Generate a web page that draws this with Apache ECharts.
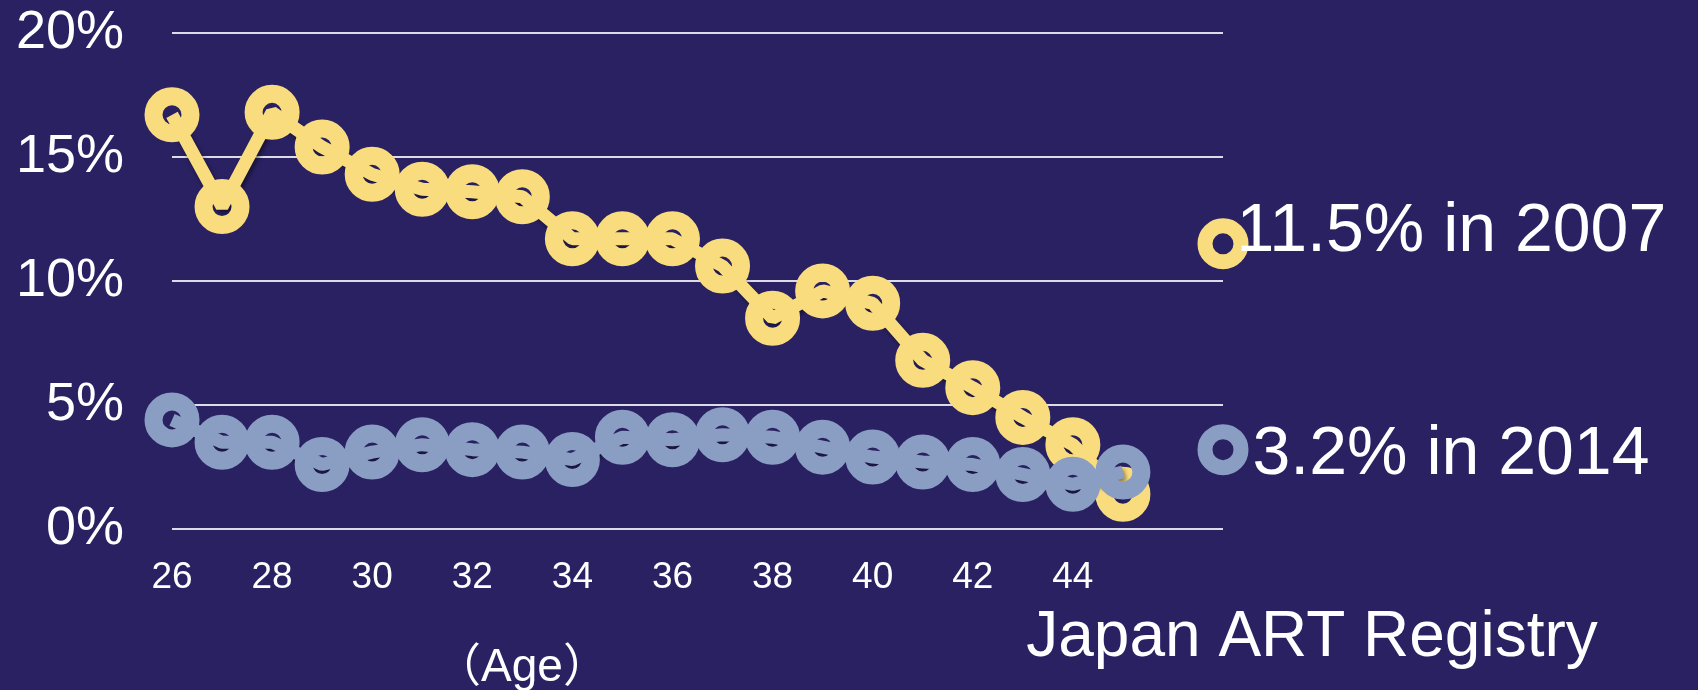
<!DOCTYPE html>
<html>
<head>
<meta charset="utf-8">
<script src="https://cdn.jsdelivr.net/npm/echarts@6/dist/echarts.min.js"></script>
<style>
html,body{margin:0;padding:0;background:#2a2162;}
#c{width:1698px;height:690px;}
</style>
</head>
<body>
<div id="c"></div>
<script>
var ages = [26,27,28,29,30,31,32,33,34,35,36,37,38,39,40,41,42,43,44,45];
var rate2007 = [16.7,13.0,16.8,15.4,14.3,13.7,13.6,13.4,11.7,11.7,11.7,10.6,8.5,9.6,9.1,6.8,5.7,4.5,3.4,1.4];
var rate2014 = [4.4,3.5,3.5,2.6,3.1,3.4,3.2,3.1,2.8,3.7,3.6,3.8,3.7,3.3,2.9,2.7,2.6,2.2,1.8,2.3];
var avgAge = 47;
var avg2007 = 11.5;
var avg2014 = 3.2;
var avgLabels = ['11.5% in 2007', '3.2% in 2014'];

var YEL = '#f9dc7e', BLU = '#8a9ec3', BG = '#2a2162';
function pairs(v){ return ages.map(function(a,i){ return [a, v[i]]; }); }

var chart = echarts.init(document.getElementById('c'));
var lineShadow = {shadowColor:'rgba(0,0,0,0.45)', shadowBlur:4, shadowOffsetX:2, shadowOffsetY:3};
chart.setOption({
  backgroundColor: BG,
  animation: false,
  grid: {left:172, right:475, top:33, bottom:161},
  xAxis: {
    type:'value', min:26, max:47, interval:2,
    axisLine:{show:false}, axisTick:{show:false}, splitLine:{show:false},
    axisLabel:{
      color:'#fff', fontSize:37, fontFamily:'Liberation Sans Narrow, Liberation Sans, Arial', margin:30,
      formatter:function(v){ return v <= 44 ? String(v) : ''; }
    }
  },
  yAxis: {
    type:'value', min:0, max:20, interval:5,
    axisLine:{show:false}, axisTick:{show:false},
    splitLine:{lineStyle:{color:'#dcdce6', width:2}},
    axisLabel:{color:'#fff', fontSize:54, fontFamily:'Liberation Sans, Arial', margin:48,
      formatter:function(v){ return v + '%'; }}
  },
  series: [
    {
      type:'line', data: pairs(rate2007), symbol:'circle', symbolSize:37,
      lineStyle: Object.assign({color:YEL, width:13}, lineShadow),
      itemStyle:{color:'transparent', borderColor:YEL, borderWidth:18},
      emphasis:{disabled:true},
      z:2
    },
    {
      type:'line', data: pairs(rate2014), symbol:'circle', symbolSize:37,
      lineStyle: Object.assign({color:BLU, width:13}, lineShadow),
      itemStyle:{color:'transparent', borderColor:BLU, borderWidth:18},
      emphasis:{disabled:true},
      z:3
    },
    {
      type:'scatter', symbol:'circle', symbolSize:36,
      data:[
        {value:[avgAge, avg2007], itemStyle:{borderColor:YEL}, label:{formatter:avgLabels[0], offset:[-4,-12]}},
        {value:[avgAge, avg2014], itemStyle:{borderColor:BLU}, label:{formatter:avgLabels[1], offset:[12,6]}}
      ],
      itemStyle:{color:BG, borderWidth:15, opacity:1},
      label:{show:true, position:'right', distance:-8, color:'#ffffff', fontSize:68, fontFamily:'Liberation Sans, Arial', opacity:1},
      emphasis:{disabled:true},
      z:4
    }
  ],
  graphic: [
    {type:'text', z:10, style:{text:'（Age）', fill:'#fff', fontSize:46, fontFamily:'Liberation Sans, Noto Sans CJK JP', textAlign:'center', textVerticalAlign:'middle', x:522, y:668}},
    {type:'text', z:10, style:{text:'Japan ART Registry', fill:'#fff', fontSize:64, fontFamily:'Liberation Sans, Arial', textAlign:'center', textVerticalAlign:'middle', x:1312, y:638}}
  ]
});
</script>
</body>
</html>
